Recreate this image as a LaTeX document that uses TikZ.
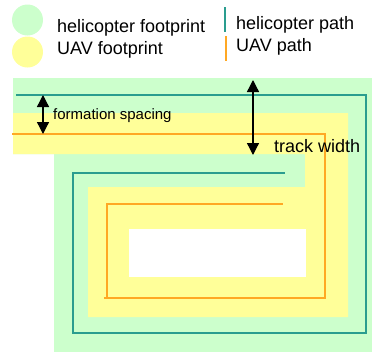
\documentclass[tikz,border=0pt]{standalone}
\usepackage{fontspec}
\setmainfont{Liberation Sans}
\usetikzlibrary{arrows.meta}
\definecolor{heligreen}{HTML}{CCFFCC}
\definecolor{uavyellow}{HTML}{FFFF99}
\definecolor{helipath}{HTML}{2A9D8F}
\definecolor{uavpath}{HTML}{FFA824}
\tikzset{
  lbl/.style={anchor=base west,inner sep=0pt,font=\fontsize{18bp}{20bp}\selectfont},
  smalllbl/.style={anchor=base west,inner sep=0pt,font=\fontsize{15bp}{17bp}\selectfont},
  dot/.style={circle,inner sep=0pt,minimum size=31bp},
  hpath/.style={draw=helipath,line width=1.5bp},
  upath/.style={draw=uavpath,line width=1.5bp},
  dim/.style={{Triangle[length=12bp,width=12bp]}-{Triangle[length=12bp,width=12bp]},line width=1.3bp,black}
}
\begin{document}
\begin{tikzpicture}[x=1bp,y=-1bp]
\useasboundingbox (0,0) rectangle (372,352);
\fill[white] (0,0) rectangle (372,352);
% footprints
\fill[heligreen] (13,78) -- (372,78) -- (372,352) -- (54,352) -- (54,154) -- (13,154) -- cycle;
\fill[uavyellow] (13,113) -- (348,113) -- (348,317) -- (88,317) -- (88,187) -- (305,187) -- (305,154) -- (13,154) -- cycle;
\fill[white] (129,229) rectangle (306,277);
% paths
\draw[hpath] (16,95) -- (366,95) -- (366,333) -- (73,333) -- (73,173) -- (285,173);
\draw[upath] (12,134) -- (325,134) -- (325,298) -- (104,298);
\draw[upath] (107,298) -- (107,204) -- (283,204);
% legend
\node[dot,fill=heligreen] (lg) at (27.5,20) {};
\node[dot,fill=uavyellow] (ly) at (27.5,52) {};
\node[lbl] (tlg) at (57,32) {helicopter footprint};
\node[lbl] (tly) at (57,54) {UAV footprint};
\coordinate (hl1) at (225,7);
\coordinate (hl2) at (225,32);
\coordinate (ul1) at (226,36);
\coordinate (ul2) at (226,61);
\draw[hpath] (hl1) -- (hl2);
\draw[upath] (ul1) -- (ul2);
\node[lbl] (thp) at (236,29) {helicopter path};
\node[lbl] (tup) at (236,51) {UAV path};
% dimensions
\coordinate (fs1) at (43,95);
\coordinate (fs2) at (43,134);
\draw[dim] (fs1) -- (fs2);
\node[smalllbl] (tfs) at (53,119) {formation spacing};
\coordinate (tw1) at (253,80);
\coordinate (tw2) at (253,155);
\draw[dim] (tw1) -- (tw2);
\node[lbl] (ttw) at (274,152) {track width};
\end{tikzpicture}
\end{document}
